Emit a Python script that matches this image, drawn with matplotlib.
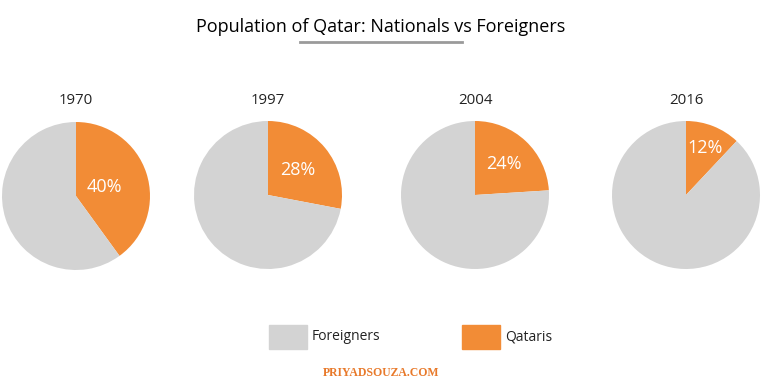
import matplotlib
matplotlib.use("Agg")
import matplotlib.pyplot as plt
from matplotlib.patches import Rectangle
from matplotlib.lines import Line2D

plt.rcParams["font.family"] = ["Open Sans", "DejaVu Sans"]

years = ["1970", "1997", "2004", "2016"]
qataris = [40, 28, 24, 12]
categories = ["Foreigners", "Qataris"]

GRAY = "#d3d3d3"
ORANGE = "#f28c36"
W, H = 762, 391

fig = plt.figure(figsize=(W / 100, H / 100), dpi=100)

# pie centres in px (x from left, y from top), radius px, label distance
centres = [(76, 196), (268, 195), (475, 195), (686, 195)]
R = 74
pctdist = [0.40, 0.53, 0.57, 0.69]

for (cx, cy), yr, q, pd_ in zip(centres, years, qataris, pctdist):
    ax = fig.add_axes([(cx - R) / W, (H - cy - R) / H, 2 * R / W, 2 * R / H])
    ax.pie([q, 100 - q], colors=[ORANGE, GRAY], startangle=90, counterclock=False,
           radius=1, autopct=lambda p: f"{p:.0f}%" if p < 50 else "",
           pctdistance=pd_, textprops=dict(color="white", fontsize=13),
           wedgeprops=dict(linewidth=0))
    ax.set_xlim(-1, 1); ax.set_ylim(-1, 1)
    ax.set_aspect("equal")
    fig.text(cx / W, 1 - 101 / H, yr, ha="center", va="center", fontsize=10.8, color="#222222")

fig.text(381 / W, 1 - 27 / H, "Population of Qatar: Nationals vs Foreigners",
         ha="center", va="center", fontsize=13, color="black")
fig.add_artist(Line2D([300 / W, 462 / W], [1 - 42 / H, 1 - 42 / H], color="#9a9a9a", lw=2))

# legend
for x0, col, lab in [(269, GRAY, categories[0]), (462, ORANGE, categories[1])]:
    fig.add_artist(Rectangle((x0 / W, 1 - 349 / H), 38 / W, 24 / H, color=col,
                             transform=fig.transFigure))
    fig.text((x0 + 43) / W, 1 - 337 / H, lab, ha="left", va="center", fontsize=10, color="#222222")

fig.text(381 / W, 1 - 373 / H, "PRIYADSOUZA.COM", ha="center", va="center",
         fontsize=8.5, weight="bold", color="#e8792a", family=["Liberation Serif", "DejaVu Serif"])

fig.savefig("out.png", dpi=100, facecolor="white")
